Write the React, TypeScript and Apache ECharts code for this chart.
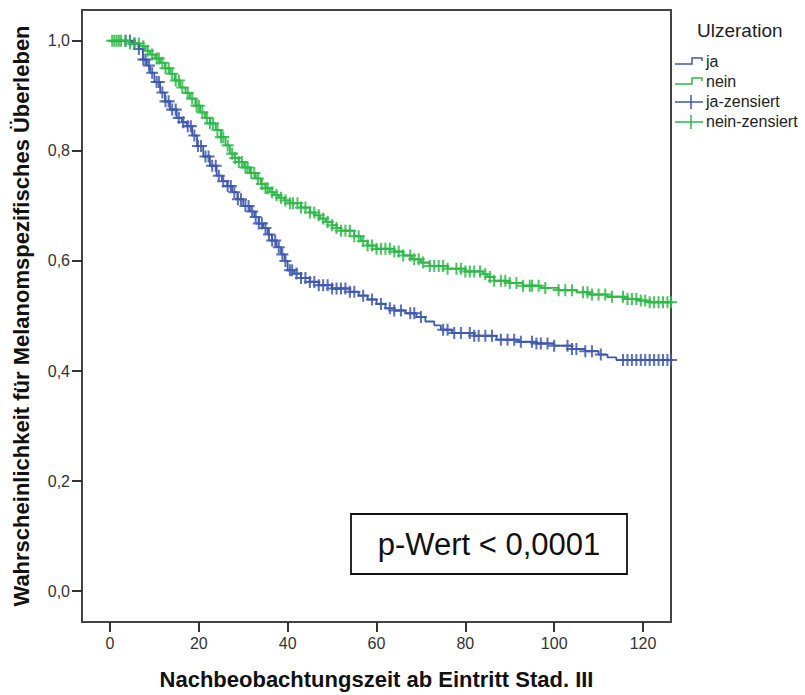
import React, { useEffect, useRef } from "react";
import * as echarts from "echarts";

// Kaplan-Meier step points [time, survival after event]
const greenSteps: [number, number][] = [
  [0, 1.0], [4.5, 0.995], [6.8, 0.99], [8, 0.982], [9, 0.975], [10.2, 0.968], [11.3, 0.96], [12.4, 0.95],
  [13.5, 0.94], [14.6, 0.928], [15.8, 0.915], [17, 0.905], [18, 0.895], [19.2, 0.882], [20.3, 0.87],
  [21.4, 0.86], [22.5, 0.85], [23.8, 0.838], [25, 0.825], [26, 0.81], [27, 0.795], [28, 0.787], [29, 0.78],
  [30.2, 0.77], [31.5, 0.76], [32.8, 0.75], [34, 0.74], [35, 0.732], [36, 0.725], [37, 0.72], [38, 0.715],
  [39.2, 0.71], [40.5, 0.705], [43, 0.697], [45, 0.688], [46.2, 0.683], [47.3, 0.677], [48.6, 0.671],
  [50, 0.665], [51, 0.66], [52, 0.655], [55, 0.645], [56.5, 0.636], [58, 0.628], [60, 0.622], [64, 0.617],
  [66, 0.61], [68, 0.603], [70, 0.597], [72, 0.591], [76, 0.586], [80, 0.581], [84, 0.576], [85, 0.571],
  [86.5, 0.564], [90, 0.56], [93, 0.555], [97, 0.551], [101, 0.547], [105, 0.543], [108, 0.539],
  [112, 0.535], [116, 0.531], [119, 0.528], [121, 0.525],
];

const blueSteps: [number, number][] = [
  [0, 1.0], [5, 0.995], [6.5, 0.985], [7.4, 0.966], [8.3, 0.955], [9, 0.942], [10, 0.925], [11.3, 0.906],
  [12.4, 0.89], [13.5, 0.875], [15, 0.86], [16.2, 0.852], [17.3, 0.845], [18.5, 0.828], [19.6, 0.809],
  [21, 0.79], [22.5, 0.773], [24, 0.755], [25.2, 0.745], [26.4, 0.736], [27.5, 0.725], [28.7, 0.712],
  [30, 0.7], [31.5, 0.69], [32.5, 0.68], [33.5, 0.668], [34.5, 0.66], [35.5, 0.648], [36.5, 0.637],
  [37.5, 0.625], [38.5, 0.612], [39.3, 0.6], [40, 0.583], [41.5, 0.577], [43, 0.569], [45, 0.562],
  [47, 0.556], [50, 0.55], [54, 0.544], [56, 0.537], [58, 0.53], [60, 0.522], [62, 0.514], [64, 0.51],
  [66.5, 0.505], [69, 0.498], [71, 0.49], [73, 0.483], [74.5, 0.475], [77, 0.469], [82, 0.464],
  [87, 0.457], [92, 0.453], [96, 0.45], [100, 0.446], [104, 0.44], [107, 0.436], [110, 0.43],
  [112, 0.425], [114, 0.42],
];

// censoring times
const greenCensored: number[] = [
  0.5, 1, 1.5, 2, 2.5, 3.5, 4.5, 5.5, 6.5, 7.5, 8.5, 9.5, 10.5, 11, 11.8, 12.5, 13.2, 14, 14.8, 15.5,
  16.3, 17.5, 18.5, 19.5, 20, 20.8, 21.8, 22.5, 23.2, 24.2, 25, 25.5, 26.5, 27.5, 28.2, 29, 29.7, 30.5,
  31, 31.8, 32.5, 33.3, 34.2, 35, 35.5, 36.5, 37.5, 38.5, 39.5, 40.5, 41.2, 42.2, 43, 44, 45, 46, 47,
  48, 49, 50, 51, 52, 53, 54, 55, 56, 57, 58, 59, 60, 61, 62, 63, 64, 65, 66, 67.6, 68.5, 69.5, 70.5,
  72, 73, 74, 75, 76, 78, 79, 80, 81, 82, 83.3, 84.5, 85.5, 86.5, 88, 89, 90, 91.5, 93, 94.5, 95,
  96.5, 98, 101, 102.5, 104, 106.5, 107.5, 108.5, 110, 111.5, 113, 115.5, 116.5, 117.5, 118.5, 119.5,
  120.5, 121.5, 122.5, 123.5, 124.5, 125.5, 126.3,
];

const blueCensored: number[] = [
  3.5, 4.5, 5.5, 6.5, 7.5, 8, 8.8, 9.5, 10.5, 11, 11.8, 12.5, 13.2, 14, 14.8, 15.5, 16.5, 17.5, 18.2,
  19, 19.8, 20.5, 21.5, 22.2, 23, 23.8, 24.5, 25.5, 26.5, 27.2, 28, 28.8, 29.5, 30.5, 31.2, 32, 32.8,
  33.5, 34.2, 35, 35.8, 36.5, 37.2, 38, 38.8, 39.5, 40.5, 41, 42, 43, 44, 45, 46, 47, 48, 49, 50, 51,
  52, 53, 54, 55, 57, 59, 61, 63, 64, 65.5, 67.6, 68.5, 70, 75, 76, 77.5, 79, 81, 82, 83, 84.5, 86,
  88, 89.5, 91, 92.5, 95, 96, 97, 98.5, 100, 103, 104, 105, 107, 108.5, 110.5, 115.5, 116.5, 117.5,
  118.5, 119.5, 120.5, 121.5, 122.5, 123.5, 124.5, 125.5, 126.3,
];

const xTicks: number[] = [0, 20, 40, 60, 80, 100, 120];
const yTicks: number[] = [0, 0.2, 0.4, 0.6, 0.8, 1.0];

const BLUE = "#3E58AC";
const GREEN = "#2EB848";
const FONT = "'Liberation Sans', Arial, sans-serif";
const PLUS = "path://M4.15,0H5.85V4.15H10V5.85H5.85V10H4.15V5.85H0V4.15H4.15Z";

function survivalAt(steps: [number, number][], t: number): number {
  let s = steps[0][1];
  for (const [tt, v] of steps) {
    if (tt <= t) s = v;
    else break;
  }
  return s;
}

function lineData(steps: [number, number][], censored: number[]): [number, number][] {
  const last = Math.max(...censored);
  const out = steps.map((p) => [p[0], p[1]] as [number, number]);
  if (last > out[out.length - 1][0]) out.push([last, out[out.length - 1][1]]);
  return out;
}

function censorData(steps: [number, number][], censored: number[]): [number, number][] {
  return censored.map((t) => [t, survivalAt(steps, t)]);
}

export default function App() {
  const ref = useRef<HTMLDivElement>(null);
  useEffect(() => {
    if (!ref.current) return;
    const chart = echarts.init(ref.current, undefined, { renderer: "svg" });
    const legendX = 675;
    const legendItems = [
      { name: "ja", color: BLUE, kind: "step", y: 62 },
      { name: "nein", color: GREEN, kind: "step", y: 82 },
      { name: "ja-zensiert", color: BLUE, kind: "plus", y: 102 },
      { name: "nein-zensiert", color: GREEN, kind: "plus", y: 122 },
    ];
    const graphics: any[] = [];
    graphics.push({
      type: "text",
      left: 697,
      top: 21,
      style: { text: "Ulzeration", font: `19px ${FONT}`, fill: "#222" },
    });
    legendItems.forEach((it) => {
      if (it.kind === "step") {
        graphics.push({
          type: "polyline",
          shape: {
            points: [
              [legendX, it.y + 2],
              [legendX + 17, it.y + 2],
              [legendX + 17, it.y - 4],
              [legendX + 27, it.y - 4],
              [legendX + 27, it.y - 1],
            ],
          },
          style: { stroke: it.color, lineWidth: 1.5, fill: null },
        });
      } else {
        graphics.push({
          type: "line",
          shape: { x1: legendX, y1: it.y, x2: legendX + 28, y2: it.y },
          style: { stroke: it.color, lineWidth: 1.5 },
        });
        graphics.push({
          type: "line",
          shape: { x1: legendX + 16, y1: it.y - 7, x2: legendX + 16, y2: it.y + 7 },
          style: { stroke: it.color, lineWidth: 1.5 },
        });
      }
      graphics.push({
        type: "text",
        left: legendX + 31,
        top: it.y - 9,
        style: { text: it.name, font: `16px ${FONT}`, fill: "#222" },
      });
    });
    graphics.push({
      type: "rect",
      shape: { x: 351, y: 514, width: 276, height: 60 },
      style: { fill: "#fff", stroke: "#111", lineWidth: 1.8 },
      z: 10,
    });
    graphics.push({
      type: "text",
      x: 489,
      y: 544,
      style: {
        text: "p-Wert < 0,0001",
        font: `31px ${FONT}`,
        fill: "#111",
        align: "center",
        verticalAlign: "middle",
      },
      z: 11,
    });

    chart.setOption({
      animation: false,
      backgroundColor: "#fff",
      grid: {
        left: 82,
        right: 134,
        top: 10,
        bottom: 69,
        show: true,
        borderColor: "#444",
        borderWidth: 2,
        backgroundColor: "#fff",
      },
      xAxis: {
        type: "value",
        min: -6.3,
        max: 126.3,
        name: "Nachbeobachtungszeit ab Eintritt Stad. III",
        nameLocation: "middle",
        nameGap: 57,
        nameTextStyle: {
          fontFamily: FONT,
          fontWeight: "bold",
          fontSize: 22,
          color: "#111",
          verticalAlign: "middle",
        },
        axisLine: { show: false, onZero: false },
        axisTick: {
          show: true,
          length: 10,
          customValues: xTicks,
          lineStyle: { color: "#333", width: 2 },
        },
        axisLabel: {
          customValues: xTicks,
          margin: 13,
          fontFamily: FONT,
          fontSize: 16,
          color: "#333",
        },
        splitLine: { show: false },
      },
      yAxis: {
        type: "value",
        min: -0.056,
        max: 1.056,
        name: "Wahrscheinlichkeit für Melanomspezifisches Überleben",
        nameLocation: "middle",
        nameGap: 61,
        nameTextStyle: {
          fontFamily: FONT,
          fontWeight: "bold",
          fontSize: 22,
          color: "#111",
          verticalAlign: "middle",
        },
        axisLine: { show: false, onZero: false },
        axisTick: {
          show: true,
          length: 10,
          customValues: yTicks,
          lineStyle: { color: "#333", width: 2 },
        },
        axisLabel: {
          customValues: yTicks,
          margin: 12,
          fontFamily: FONT,
          fontSize: 16,
          color: "#333",
          formatter: (v: number) => v.toFixed(1).replace(".", ","),
        },
        splitLine: { show: false },
      },
      series: [
        {
          name: "ja",
          type: "line",
          step: "end",
          data: lineData(blueSteps, blueCensored),
          showSymbol: false,
          lineStyle: { color: BLUE, width: 1.8 },
          itemStyle: { color: BLUE },
        },
        {
          name: "nein",
          type: "line",
          step: "end",
          data: lineData(greenSteps, greenCensored),
          showSymbol: false,
          lineStyle: { color: GREEN, width: 1.8 },
          itemStyle: { color: GREEN },
        },
        {
          name: "ja-zensiert",
          type: "scatter",
          data: censorData(blueSteps, blueCensored),
          symbol: PLUS,
          symbolSize: 12,
          itemStyle: { color: BLUE, opacity: 0.85 },
        },
        {
          name: "nein-zensiert",
          type: "scatter",
          data: censorData(greenSteps, greenCensored),
          symbol: PLUS,
          symbolSize: 12,
          itemStyle: { color: GREEN, opacity: 0.85 },
        },
      ],
      graphic: graphics,
    });
    return () => chart.dispose();
  }, []);
  return <div ref={ref} style={{ width: 805, height: 695, position: "absolute", left: 0, top: 0 }} />;
}
